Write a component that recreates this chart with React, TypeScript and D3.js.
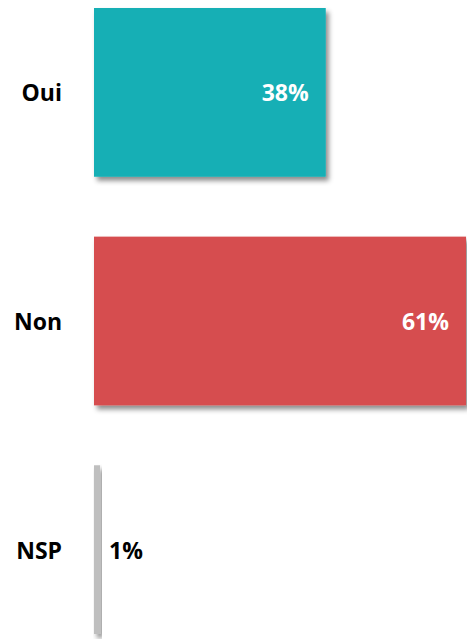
import React from 'react';
import * as d3 from 'd3';

const categories = ['Oui', 'Non', 'NSP'];
const values = [38, 61, 1];
const colors = ['#12AFB5', '#D64E50', '#BFBFBF'];
const valueLabels = ['38%', '61%', '1%'];

const W = 467;
const H = 639;

const App = () => {
  const x = d3.scaleLinear().domain([0, 61]).range([94, 466]);
  const y = d3.scaleBand<string>()
    .domain(categories)
    .range([8, 634])
    .paddingInner(0.262)
    .paddingOuter(0);

  const font = '"Open Sans", "Liberation Sans", sans-serif';

  return (
    <div style={{ position: 'absolute', left: 0, top: 0 }}>
      <svg width={W} height={H} style={{ display: 'block' }}>
        <defs>
          <filter id="shadow" x="-10%" y="-10%" width="130%" height="130%">
            <feDropShadow dx="3" dy="4" stdDeviation="2.5" floodColor="#000" floodOpacity="0.45" />
          </filter>
        </defs>
        {categories.map((c, i) => {
          const y0 = y(c) as number;
          const bw = y.bandwidth();
          const x1 = x(values[i]);
          const cy = y0 + bw / 2;
          const inside = values[i] > 5;
          return (
            <g key={c}>
              <rect
                x={x(0)}
                y={y0}
                width={x1 - x(0)}
                height={bw}
                fill={colors[i]}
                filter="url(#shadow)"
              />
              <text
                x={62}
                y={cy}
                textAnchor="end"
                dominantBaseline="central"
                fontFamily={font}
                fontWeight="bold"
                fontSize={23}
                fill="#000"
              >
                {c}
              </text>
              <text
                x={inside ? x1 - 17 : x1 + 9}
                y={cy}
                textAnchor={inside ? 'end' : 'start'}
                dominantBaseline="central"
                fontFamily={font}
                fontWeight="bold"
                fontSize={23}
                fill={inside ? '#fff' : '#000'}
              >
                {valueLabels[i]}
              </text>
            </g>
          );
        })}
      </svg>
    </div>
  );
};

export default App;
